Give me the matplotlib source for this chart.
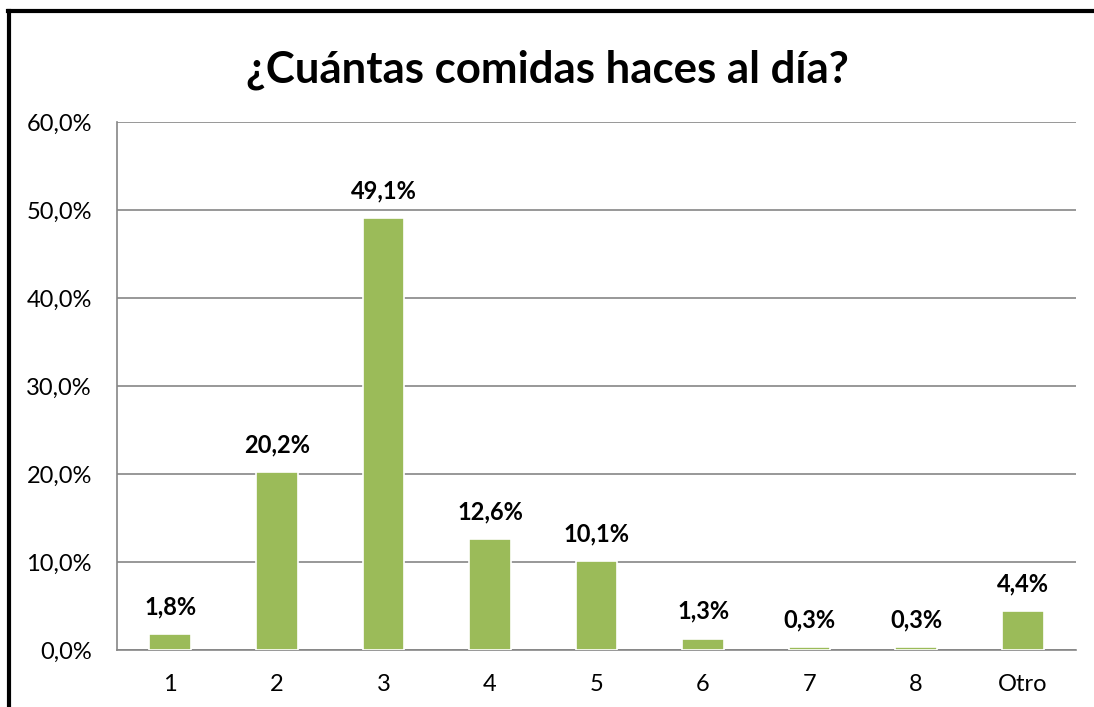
import matplotlib
matplotlib.use("Agg")
import matplotlib.pyplot as plt
from matplotlib.lines import Line2D

plt.rcParams["font.family"] = ["Lato", "DejaVu Sans"]

categorias = ["1", "2", "3", "4", "5", "6", "7", "8", "Otro"]
porcentajes = [1.8, 20.2, 49.1, 12.6, 10.1, 1.3, 0.3, 0.3, 4.4]
yticks = [0, 10, 20, 30, 40, 50, 60]

COR_BARRA = "#9BBB59"
COR_GRADE = "#868686"

W, H = 1094, 707
fig = plt.figure(figsize=(W / 100, H / 100), dpi=100)
ax = fig.add_axes([117 / W, 1 - 650 / H, (1076 - 117) / W, (650 - 122) / H])

x = list(range(len(categorias)))
ax.bar(x, porcentajes, width=0.39, color=COR_BARRA, edgecolor="white", linewidth=1.2, zorder=3)
for xi, v in zip(x, porcentajes):
    ax.text(xi, v + 1.8, f"{v:.1f}%".replace(".", ","), ha="center", va="bottom",
            fontsize=17, fontweight="bold", color="black")

ax.set_xlim(-0.5, len(categorias) - 0.5)
ax.set_ylim(0, 60)
ax.set_yticks(yticks)
ax.set_yticklabels([f"{t:.1f}%".replace(".", ",") for t in yticks], fontsize=17)
ax.set_xticks(x)
ax.set_xticklabels(categorias, fontsize=17)
ax.tick_params(axis="y", length=0, pad=18)
ax.tick_params(axis="x", length=0, pad=17)
ax.yaxis.grid(True, color=COR_GRADE, linewidth=1.2, zorder=0)
ax.set_axisbelow(True)
for s in ["top", "right"]:
    ax.spines[s].set_visible(False)
for s in ["left", "bottom"]:
    ax.spines[s].set_color(COR_GRADE)
    ax.spines[s].set_linewidth(1.2)

fig.text(0.5, 1 - 70 / H, "¿Cuántas comidas haces al día?", ha="center", va="center",
         fontsize=31.5, fontweight="bold")

# borde negro (cortado a la derecha y abajo)
fig.add_artist(Line2D([9 / W, 9 / W], [0, 1 - 11 / H], color="black", linewidth=3,
                      transform=fig.transFigure))
fig.add_artist(Line2D([7.5 / W, 1], [1 - 11 / H, 1 - 11 / H], color="black", linewidth=3,
                      transform=fig.transFigure))

fig.savefig("out.png", dpi=100, facecolor="white")
